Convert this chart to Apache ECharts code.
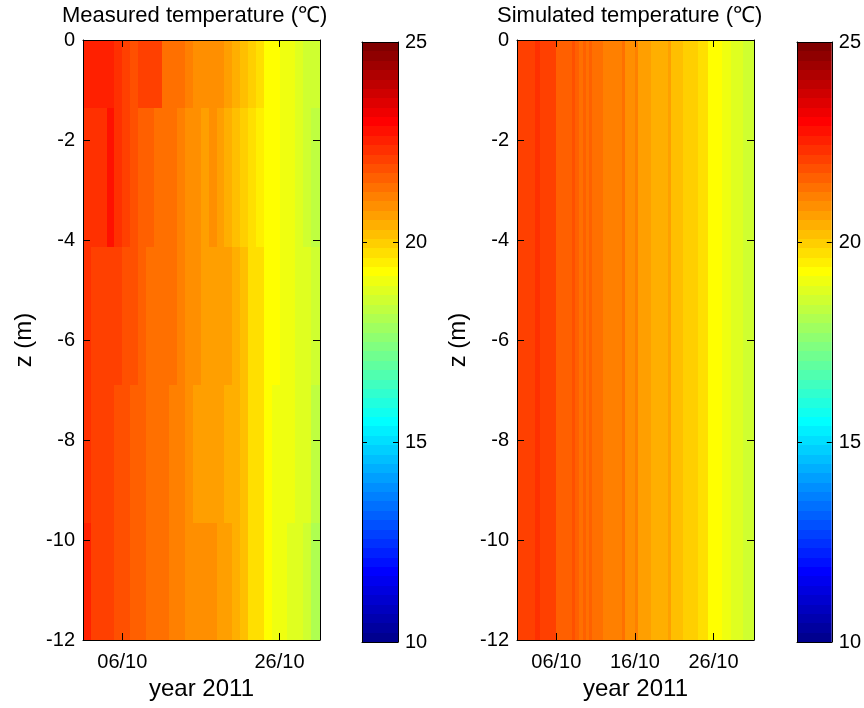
<!DOCTYPE html>
<html><head><meta charset="utf-8">
<script src="https://cdn.jsdelivr.net/npm/echarts@6/dist/echarts.min.js"></script>
<style>html,body{margin:0;padding:0;background:#fff}#c{width:864px;height:708px}</style>
</head><body><div id="c"></div>
<script>
// ---------------- DATA ----------------
// depth cell edges (m)
const depthEdges = [0, -1.35, -4.13, -6.9, -9.65, -12];
// measured: one column per day of October 2011 (cell [d, d+1])
const measuredDays = [1,2,3,4,5,6,7,8,9,10,11,12,13,14,15,16,17,18,19,20,21,22,23,24,25,26,27,28,29,30];
const measuredEndDay = 31.15;
const measuredRow1 = [22.54,22.54,22.54,22.54,22.3,22.07,21.8,22.07,22.07,22.07,21.37,21.37,21.37,21.13,20.9,20.9,20.9,20.9,20.66,20.43,20.2,19.96,19.73,19.26,19.26,19.02,19.02,18.79,18.55,18.55];
const measuredRow2 = [22.3,22.3,22.3,22.66,22.3,22.07,21.84,21.6,21.6,21.37,21.37,21.37,21.13,20.9,20.9,20.66,20.9,20.66,20.43,20.2,19.96,19.73,19.49,19.26,19.26,19.02,19.02,18.79,18.55,18.32];
const measuredRow3 = [22.3,22.07,22.07,22.07,22.07,21.84,21.84,21.6,21.37,21.37,21.37,21.37,21.13,20.9,20.9,20.66,20.66,20.66,20.55,20.43,20.2,19.73,19.73,19.26,19.26,19.02,19.02,18.79,18.79,18.55];
const measuredRow4 = [22.3,22.07,22.07,22.07,21.84,21.84,21.6,21.6,21.37,21.37,21.37,21.13,21.13,20.9,20.66,20.66,20.66,20.55,20.43,20.43,20.2,19.73,19.73,19.26,19.02,19.02,19.02,18.79,18.79,18.43];
const measuredRow5 = [22.54,22.07,22.07,22.07,21.84,21.84,21.6,21.6,21.37,21.37,21.37,21.13,21.13,21.0,20.9,20.8,20.8,20.66,20.66,20.43,20.2,19.73,19.73,19.26,19.1,19.1,18.9,18.79,18.6,18.2];
// simulated: time cell edges (day of October) and temperatures
const simulatedEdges = [1,3.25,3.95,6.0,8.0,8.4,8.85,9.4,9.8,10.2,10.6,12.0,14.3,14.75,16.05,16.4,18.1,20.2,20.6,22.1,24.0,25.3,27.1,28.2,29.7,31.15];
const simulatedTemp = [22.07,22.3,22.07,21.6,21.84,21.6,21.37,21.6,21.37,21.6,21.37,21.13,21.37,20.9,21.13,20.66,20.43,20.66,20.2,19.96,19.73,19.26,19.02,18.79,18.55];
// ticks
const measuredTickDays = [6, 26];
const measuredTickLabels = ['06/10', '26/10'];
const simulatedTickDays = [6, 16, 26];
const simulatedTickLabels = ['06/10', '16/10', '26/10'];
const depthTicks = [0, -2, -4, -6, -8, -10, -12];
const colorbarTicks = [10, 15, 20, 25];
const colorMin = 10, colorMax = 25, colorLevels = 64;

// ---------------- BUILD ----------------
function jetColor(k) { // MATLAB jet(64), k = 1..64
  const n = 16, u = [];
  for (let j = 1; j <= n; j++) u.push(j / n);
  for (let j = 1; j < n; j++) u.push(1);
  for (let j = n; j >= 1; j--) u.push(j / n);
  let r = 0, g = 0, b = 0;
  u.forEach((val, j) => {
    const gi = 8 + j + 1;
    if (gi === k) g = val;
    if (gi + n === k) r = val;
    if (gi - n === k) b = val;
  });
  return 'rgb(' + Math.round(r * 255) + ',' + Math.round(g * 255) + ',' + Math.round(b * 255) + ')';
}
const step = (colorMax - colorMin) / colorLevels;
const pieces = [];
const colorbarData = [];
for (let k = 1; k <= colorLevels; k++) {
  const lo = colorMin + (k - 1) * step, hi = colorMin + k * step;
  pieces.push(k < colorLevels ? {gte: lo, lt: hi, color: jetColor(k)} : {gte: lo, lte: hi, color: jetColor(k)});
  colorbarData.push([0, 1, lo, hi, (lo + hi) / 2]);
}

const measuredRows = [measuredRow1, measuredRow2, measuredRow3, measuredRow4, measuredRow5];
const measuredData = [];
measuredRows.forEach((row, r) => {
  row.forEach((v, c) => {
    const x0 = measuredDays[c];
    const x1 = c + 1 < measuredDays.length ? measuredDays[c + 1] : measuredEndDay;
    measuredData.push([x0, x1, depthEdges[r], depthEdges[r + 1], v]);
  });
});
const simulatedData = simulatedTemp.map((v, i) => [simulatedEdges[i], simulatedEdges[i + 1], 0, -12, v]);

function renderCell(params, api) {
  const p0 = api.coord([api.value(0), api.value(2)]);
  const p1 = api.coord([api.value(1), api.value(3)]);
  const x0 = Math.round(Math.min(p0[0], p1[0])), x1 = Math.round(Math.max(p0[0], p1[0]));
  const y0 = Math.round(Math.min(p0[1], p1[1])), y1 = Math.round(Math.max(p0[1], p1[1]));
  const cs = params.coordSys;
  const rect = echarts.graphic.clipRectByRect({x: x0, y: y0, width: x1 - x0, height: y1 - y0},
    {x: cs.x, y: cs.y, width: cs.width, height: cs.height});
  if (!rect) return;
  return {type: 'rect', shape: rect, style: {fill: api.visual('color')}};
}

const FONT = "'Liberation Sans', Arial, sans-serif";
const FS = 20;    // tick labels
const FST = 22;   // titles
const FSN = 24;   // axis names
const lineStyle = {color: '#000', width: 1};
function dayLabel(v, days, labels) {
  const i = days.indexOf(Math.round(v));
  return i >= 0 ? labels[i] : '';
}
function timeAxes(gridIndex, days, labels) {
  const base = {
    type: 'value', gridIndex, min: 1, max: measuredEndDay, z: 10,
    splitLine: {show: false},
    axisLine: {show: true, onZero: false, lineStyle},
    axisTick: {show: true, inside: true, length: 7, lineStyle, customValues: days}
  };
  return [
    Object.assign({}, base, {
      position: 'bottom',
      axisLabel: {show: true, customValues: days, margin: 12, color: '#000', fontSize: FS, fontFamily: FONT,
        formatter: v => dayLabel(v, days, labels)},
      name: 'year 2011', nameLocation: 'middle', nameGap: 37,
      nameTextStyle: {color: '#000', fontSize: FSN, fontFamily: FONT}
    }),
    Object.assign({}, base, {position: 'top', axisLabel: {show: false}})
  ];
}
function depthAxes(gridIndex) {
  const base = {
    type: 'value', gridIndex, min: -12, max: 0, interval: 2, z: 10,
    splitLine: {show: false},
    axisLine: {show: true, onZero: false, lineStyle},
    axisTick: {show: true, inside: true, length: 7, lineStyle}
  };
  return [
    Object.assign({}, base, {
      position: 'left',
      axisLabel: {show: true, margin: 8, color: '#000', fontSize: FS, fontFamily: FONT,
        formatter: v => depthTicks.indexOf(v) >= 0 ? String(v) : ''},
      name: 'z (m)', nameLocation: 'middle', nameGap: 47, nameRotate: 90,
      nameTextStyle: {color: '#000', fontSize: FSN, fontFamily: FONT}
    }),
    Object.assign({}, base, {position: 'right', axisLabel: {show: false}})
  ];
}
function cbXAxes(gridIndex) {
  const base = {type: 'value', gridIndex, min: 0, max: 1, z: 10, splitLine: {show: false},
    axisLine: {show: true, onZero: false, lineStyle}, axisTick: {show: false}, axisLabel: {show: false}};
  return [Object.assign({}, base, {position: 'bottom'}), Object.assign({}, base, {position: 'top'})];
}
function cbYAxes(gridIndex) {
  const base = {type: 'value', gridIndex, min: colorMin, max: colorMax, interval: 5, z: 10,
    splitLine: {show: false}, axisLine: {show: true, onZero: false, lineStyle},
    axisTick: {show: true, inside: true, length: 5, lineStyle}};
  return [
    Object.assign({}, base, {position: 'right',
      axisLabel: {show: true, margin: 7, color: '#000', fontSize: FS, fontFamily: FONT,
        formatter: v => colorbarTicks.indexOf(v) >= 0 ? String(v) : ''}}),
    Object.assign({}, base, {position: 'left', axisLabel: {show: false}})
  ];
}

const chart = echarts.init(document.getElementById('c'), null, {renderer: 'canvas'});
chart.setOption({
  animation: false,
  backgroundColor: '#fff',
  textStyle: {fontFamily: FONT},
  title: [
    {text: 'Measured temperature (℃)', left: 62, top: 5, padding: 0,
      textStyle: {color: '#000', fontSize: FST, fontWeight: 'normal', fontFamily: FONT}},
    {text: 'Simulated temperature (℃)', left: 497, top: 5, padding: 0,
      textStyle: {color: '#000', fontSize: FST, fontWeight: 'normal', fontFamily: FONT}}
  ],
  grid: [
    {left: 83, top: 40, width: 237, height: 600, containLabel: false},
    {left: 517, top: 40, width: 237, height: 600, containLabel: false},
    {left: 362, top: 42, width: 36, height: 600, containLabel: false},
    {left: 797, top: 42, width: 36, height: 600, containLabel: false}
  ],
  xAxis: [].concat(timeAxes(0, measuredTickDays, measuredTickLabels), timeAxes(1, simulatedTickDays, simulatedTickLabels), cbXAxes(2), cbXAxes(3)),
  yAxis: [].concat(depthAxes(0), depthAxes(1), cbYAxes(2), cbYAxes(3)),
  visualMap: {type: 'piecewise', show: false, dimension: 4, seriesIndex: [0, 1, 2, 3], pieces: pieces},
  series: [
    {type: 'custom', xAxisIndex: 0, yAxisIndex: 0, renderItem: renderCell, data: measuredData, encode: {x: [0, 1], y: [2, 3]}, silent: true},
    {type: 'custom', xAxisIndex: 2, yAxisIndex: 2, renderItem: renderCell, data: simulatedData, encode: {x: [0, 1], y: [2, 3]}, silent: true},
    {type: 'custom', xAxisIndex: 4, yAxisIndex: 4, renderItem: renderCell, data: colorbarData, encode: {x: [0, 1], y: [2, 3]}, silent: true},
    {type: 'custom', xAxisIndex: 6, yAxisIndex: 6, renderItem: renderCell, data: colorbarData, encode: {x: [0, 1], y: [2, 3]}, silent: true}
  ]
});
</script>
</body></html>
